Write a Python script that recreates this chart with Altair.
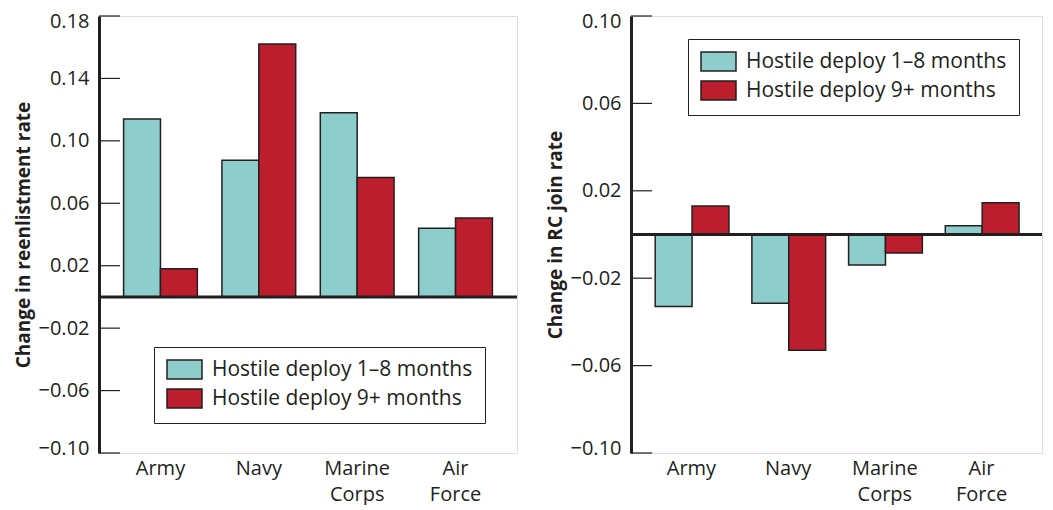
import altair as alt
import pandas as pd

branches = ["Army", "Navy", "Marine Corps", "Air Force"]
series = ["Hostile deploy 1–8 months", "Hostile deploy 9+ months"]

reenlist_short = [0.114, 0.0875, 0.118, 0.044]
reenlist_long = [0.018, 0.162, 0.0765, 0.0505]
rcjoin_short = [-0.033, -0.0315, -0.014, 0.004]
rcjoin_long = [0.013, -0.053, -0.0085, 0.0145]

left_ticks = [-0.10, -0.06, -0.02, 0.02, 0.06, 0.10, 0.14, 0.18]
right_ticks = [-0.10, -0.06, -0.02, 0.02, 0.06, 0.10]
left_domain = [-0.10, 0.18]
right_domain = [-0.10, 0.10]

TEAL = "#8dcdcb"
RED = "#bd1e2e"
INK = "#231f20"
FONT = "Open Sans"


def panel(short, long, ticks, domain, title, lx, ly, width):
    df = pd.DataFrame({
        "branch": branches * 2,
        "series": [series[0]] * 4 + [series[1]] * 4,
        "value": short + long,
    })
    yscale = alt.Scale(domain=domain, nice=False, zero=False)
    yaxis = alt.Axis(values=ticks, format=".2f", title=title,
                     ticks=False, tickSize=0, labelPadding=10,
                     labelFlush=True, labelFlushOffset=5,
                     domainColor=INK, domainWidth=3,
                     labelFontSize=20, labelColor=INK, labelFont=FONT,
                     titleFont=FONT, titleFontSize=19, titleFontWeight="bold",
                     titleColor=INK, titlePadding=5, grid=False)
    bars = alt.Chart(df).mark_bar(stroke=INK, strokeWidth=1.5).encode(
        x=alt.X("branch:N", sort=branches,
                scale=alt.Scale(paddingInner=0.25, paddingOuter=0.25),
                axis=alt.Axis(title=None, labelAngle=0, domain=False, ticks=False,
                              labelPadding=5, labelExpr="split(datum.label, ' ')",
                              labelFontSize=20, labelLineHeight=26, labelColor=INK,
                              labelFont=FONT)),
        xOffset=alt.XOffset("series:N", sort=series),
        y=alt.Y("value:Q", scale=yscale, axis=yaxis),
        color=alt.Color("series:N", sort=series, title=None,
                        scale=alt.Scale(domain=series, range=[TEAL, RED]),
                        legend=alt.Legend(orient="none", legendX=lx, legendY=ly,
                                          direction="vertical", fillColor="white",
                                          strokeColor=INK, padding=12,
                                          symbolType="M-1,-1L2.684,-1L2.684,1L-1,1Z",
                                          symbolSize=361, symbolStrokeColor=INK,
                                          symbolStrokeWidth=1.5, symbolOpacity=1,
                                          labelFontSize=21, labelColor=INK, labelFont=FONT,
                                          labelLimit=0, labelOffset=25, rowPadding=4)),
    )
    zero = alt.Chart(pd.DataFrame({"z": [0.0]})).mark_rule(color=INK, strokeWidth=3).encode(
        y=alt.Y("z:Q", scale=yscale, axis=yaxis))
    tick_rules = alt.Chart(pd.DataFrame({"t": ticks})).mark_rule(color=INK, strokeWidth=1.2).encode(
        y=alt.Y("t:Q", scale=yscale, axis=yaxis),
        x=alt.value(0), x2=alt.value(21))
    return alt.layer(bars, tick_rules, zero).properties(width=width, height=437)


left = panel(reenlist_short, reenlist_long, left_ticks, left_domain,
             "Change in reenlistment rate", 55, 331, 418)
right = panel(rcjoin_short, rcjoin_long, right_ticks, right_domain,
              "Change in RC join rate", 57, 23, 411)

chart = alt.hconcat(left, right, spacing=26).resolve_scale(
    y="independent", x="independent", color="independent"
).resolve_legend(color="independent").properties(
    padding={"left": 5, "top": 2, "right": 0, "bottom": 0}
).configure_view(stroke="#3a3a3a", strokeWidth=1.5).configure(background="white")

chart.save("out.html", embed_options={"renderer": "svg", "actions": False})
